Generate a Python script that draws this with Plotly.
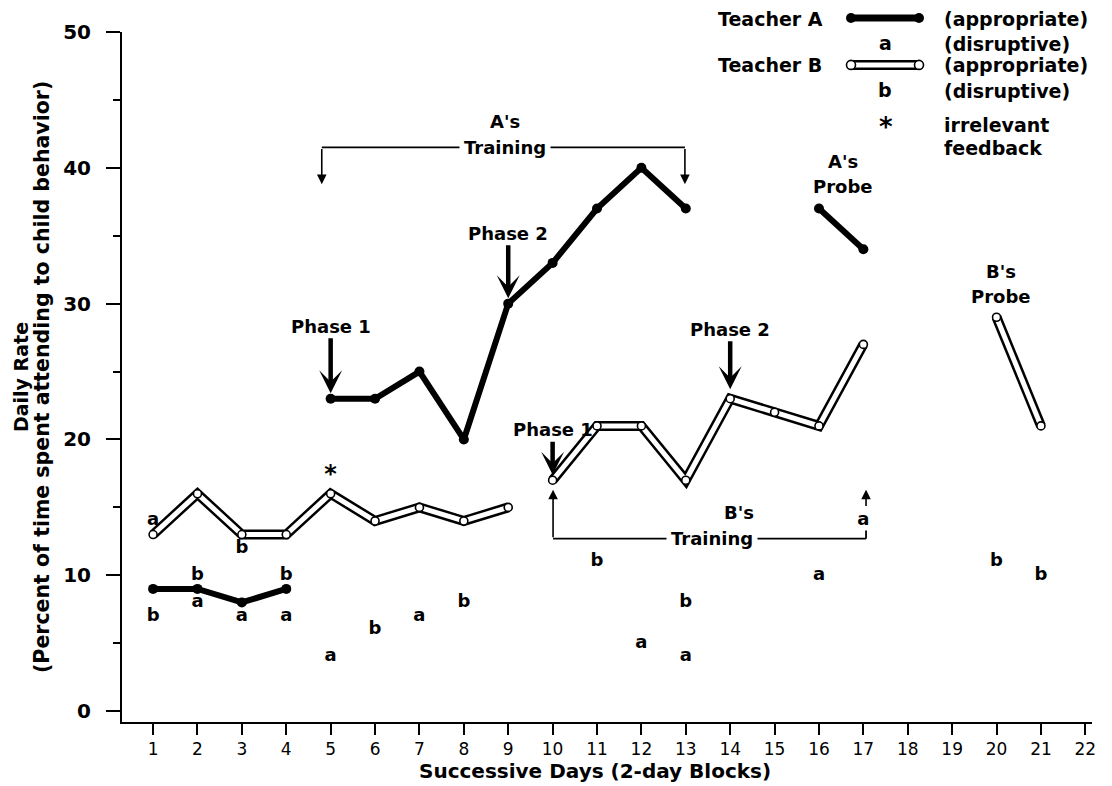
import plotly.graph_objects as go

# ---------------- data ----------------
day_ticks = list(range(1, 23))
y_ticks = [0, 10, 20, 30, 40, 50]

# Teacher A appropriate (solid thick line), three segments
a_base_days = [1, 2, 3, 4]
a_base_vals = [9, 9, 8, 9]
a_train_days = [5, 6, 7, 8, 9, 10, 11, 12, 13]
a_train_vals = [23, 23, 25, 20, 30, 33, 37, 40, 37]
a_probe_days = [16, 17]
a_probe_vals = [37, 34]

# Teacher B appropriate (double line), three segments
b_base_days = [1, 2, 3, 4, 5, 6, 7, 8, 9]
b_base_vals = [13, 16, 13, 13, 16, 14, 15, 14, 15]
b_train_days = [10, 11, 12, 13, 14, 15, 16, 17]
b_train_vals = [17, 21, 21, 17, 23, 22, 21, 27]
b_probe_days = [20, 21]
b_probe_vals = [29, 21]

# disruptive attention ("a" = Teacher A, "b" = Teacher B)
a_dis_days = [1, 2, 3, 4, 5, 7, 12, 13, 16, 17]
a_dis_vals = [14, 8, 7, 7, 4, 7, 5, 4, 10, 14]
b_dis_days = [1, 2, 3, 4, 6, 8, 11, 13, 20, 21]
b_dis_vals = [7, 10, 12, 10, 6, 8, 11, 8, 11, 10]

# irrelevant feedback marker
irr_days = [5]
irr_vals = [17.3]

FONT = "DejaVu Sans"
BLACK = "#000000"

# the page body adds an 8px margin; plot area wanted at page x 122..1092, y 30..722
OFF = 8
FIG_W, FIG_H = 1112 - OFF, 786 - OFF
PL, PR, PT, PB = 122, 1092, 30, 722

fig = go.Figure()

# Teacher A solid lines
for d, v in [(a_base_days, a_base_vals), (a_train_days, a_train_vals), (a_probe_days, a_probe_vals)]:
    fig.add_trace(go.Scatter(x=d, y=v, mode="lines+markers",
                             line=dict(color=BLACK, width=6),
                             marker=dict(color=BLACK, size=10),
                             showlegend=False, hoverinfo="skip"))

# Teacher B double lines
for d, v in [(b_base_days, b_base_vals), (b_train_days, b_train_vals), (b_probe_days, b_probe_vals)]:
    fig.add_trace(go.Scatter(x=d, y=v, mode="lines",
                             line=dict(color=BLACK, width=10),
                             showlegend=False, hoverinfo="skip"))
    fig.add_trace(go.Scatter(x=d, y=v, mode="lines+markers",
                             line=dict(color="white", width=5),
                             marker=dict(color="white", size=8,
                                         line=dict(color=BLACK, width=1.6)),
                             showlegend=False, hoverinfo="skip"))

# disruptive letters
fig.add_trace(go.Scatter(x=a_dis_days, y=a_dis_vals, mode="text",
                         text=["a"] * len(a_dis_days),
                         textfont=dict(family=FONT, size=18, color=BLACK, weight="bold"),
                         showlegend=False, hoverinfo="skip"))
fig.add_trace(go.Scatter(x=b_dis_days, y=b_dis_vals, mode="text",
                         text=["b"] * len(b_dis_days),
                         textfont=dict(family=FONT, size=18, color=BLACK, weight="bold"),
                         showlegend=False, hoverinfo="skip"))
fig.add_trace(go.Scatter(x=irr_days, y=irr_vals, mode="text", text=["*"],
                         textfont=dict(family=FONT, size=24, color=BLACK, weight="bold"),
                         showlegend=False, hoverinfo="skip"))

ann = []
shapes = []
tfont = dict(family=FONT, size=18, color=BLACK, weight="bold")


def label(x, y, text, **kw):
    d = dict(x=x, y=y, xref="x", yref="y", text=text, showarrow=False, font=tfont)
    d.update(kw)
    ann.append(d)


def phase(x, y, text, ay):
    ann.append(dict(x=x, y=y, xref="x", yref="y", text=text, showarrow=True,
                    ax=0, ay=ay, arrowhead=3, arrowsize=0.85, arrowwidth=4.5,
                    arrowcolor=BLACK, font=tfont, standoff=0))


def small_arrow(x, y0, y1):
    ann.append(dict(x=x, y=y1, ax=x, ay=y0, xref="x", yref="y", axref="x", ayref="y",
                    text="", showarrow=True, arrowhead=2, arrowsize=1.2,
                    arrowwidth=1.6, arrowcolor=BLACK))


def seg(x0, y0, x1, y1, w=1.8):
    shapes.append(dict(type="line", xref="x", yref="y", x0=x0, y0=y0, x1=x1, y1=y1,
                       line=dict(color=BLACK, width=w)))


# A's training bracket
seg(4.8, 41.5, 12.98, 41.5)
small_arrow(4.8, 41.5, 38.8)
small_arrow(12.98, 41.5, 38.8)
label(8.93, 43.4, "A's")
label(8.93, 41.5, "Training", bgcolor="white", borderpad=4)

# B's training bracket
seg(10.01, 12.7, 17.06, 12.7)
small_arrow(10.01, 12.7, 16.3)
seg(17.06, 12.7, 17.06, 13.3)
small_arrow(17.06, 15.0, 16.3)
label(14.2, 14.6, "B's")
label(13.6, 12.7, "Training", bgcolor="white", borderpad=4)

# probes
label(16.55, 40.5, "A's")
label(16.55, 38.6, "Probe")
label(20.1, 32.4, "B's")
label(20.1, 30.5, "Probe")

# phase arrows
phase(5, 23.4, "Phase 1", -67)
phase(9, 30.4, "Phase 2", -65)
phase(10, 17.4, "Phase 1", -45)
phase(14, 23.7, "Phase 2", -60)


# ---------------- legend (top right, paper coords) ----------------
def px_x(p):
    return (p - PL) / float(PR - PL)


def px_y(p):
    return (PB - p) / float(PB - PT)


lfont = dict(family=FONT, size=19, color=BLACK, weight="bold")
for txt, xp, yp, anchor in [
    ("Teacher A", 770, 17, "center"), ("(appropriate)", 942, 17, "left"),
    ("a", 885, 41, "center"), ("(disruptive)", 942, 42, "left"),
    ("Teacher B", 770, 63, "center"), ("(appropriate)", 942, 63, "left"),
    ("b", 885, 88, "center"), ("(disruptive)", 942, 89, "left"),
    ("irrelevant", 942, 123, "left"), ("feedback", 942, 146, "left"),
]:
    ann.append(dict(x=px_x(xp), y=px_y(yp), xref="paper", yref="paper", text=txt,
                    showarrow=False, xanchor=anchor, yanchor="middle", font=lfont))
ann.append(dict(x=px_x(886), y=px_y(125), xref="paper", yref="paper", text="*",
                showarrow=False, xanchor="center", yanchor="middle",
                font=dict(family=FONT, size=26, color=BLACK, weight="bold")))

# legend sample lines
shapes.append(dict(type="line", xref="paper", yref="paper", x0=px_x(851), x1=px_x(919),
                   y0=px_y(16), y1=px_y(16), line=dict(color=BLACK, width=7)))
for cx in (851, 919):
    shapes.append(dict(type="circle", xref="paper", yref="paper", xsizemode="pixel",
                       ysizemode="pixel", xanchor=px_x(cx), yanchor=px_y(16),
                       x0=-5, x1=5, y0=-5, y1=5, fillcolor=BLACK,
                       line=dict(color=BLACK, width=0)))
shapes.append(dict(type="line", xref="paper", yref="paper", x0=px_x(851), x1=px_x(919),
                   y0=px_y(63), y1=px_y(63), line=dict(color=BLACK, width=10)))
shapes.append(dict(type="line", xref="paper", yref="paper", x0=px_x(851), x1=px_x(919),
                   y0=px_y(63), y1=px_y(63), line=dict(color="white", width=5)))
for cx in (851, 919):
    shapes.append(dict(type="circle", xref="paper", yref="paper", xsizemode="pixel",
                       ysizemode="pixel", xanchor=px_x(cx), yanchor=px_y(63),
                       x0=-4.5, x1=4.5, y0=-4.5, y1=4.5, fillcolor="white",
                       line=dict(color=BLACK, width=1.6)))

# axis titles as annotations
ann.append(dict(x=px_x(595), y=px_y(771), xref="paper", yref="paper",
                text="Successive Days (2-day Blocks)", showarrow=False,
                xanchor="center", yanchor="middle",
                font=dict(family=FONT, size=20, color=BLACK, weight="bold")))
ann.append(dict(x=px_x(21), y=px_y(376), xref="paper", yref="paper",
                text="Daily Rate", showarrow=False, textangle=-90,
                xanchor="center", yanchor="middle",
                font=dict(family=FONT, size=19, color=BLACK, weight="bold")))
ann.append(dict(x=px_x(42), y=px_y(376), xref="paper", yref="paper",
                text="(Percent of time spent attending to child behavior)",
                showarrow=False, textangle=-90, xanchor="center", yanchor="middle",
                font=dict(family=FONT, size=20.5, color=BLACK, weight="bold")))

fig.update_layout(
    width=FIG_W, height=FIG_H,
    margin=dict(l=PL - OFF, r=FIG_W - (PR - OFF), t=PT - OFF, b=FIG_H - (PB - OFF)),
    paper_bgcolor="white", plot_bgcolor="white",
    showlegend=False,
    annotations=ann, shapes=shapes,
    font=dict(family=FONT, color=BLACK),
)
fig.update_xaxes(range=[0.3, 22.15], tickvals=day_ticks, ticktext=[str(d) for d in day_ticks],
                 showgrid=False, zeroline=False, showline=True, linecolor=BLACK, linewidth=2,
                 ticks="outside", ticklen=11, tickwidth=2, tickcolor=BLACK,
                 tickfont=dict(family=FONT, size=17, color=BLACK))
fig.update_yaxes(range=[-0.8, 50], tickvals=y_ticks, showgrid=False, zeroline=False,
                 showline=True, linecolor=BLACK, linewidth=2,
                 ticks="outside", ticklen=14, tickwidth=2, tickcolor=BLACK,
                 ticklabelstandoff=11,
                 minor=dict(dtick=5, ticks="outside", ticklen=7, tickwidth=2, tickcolor=BLACK),
                 tickfont=dict(family=FONT, size=20, color=BLACK, weight="bold"))

fig.write_html("out.html")
